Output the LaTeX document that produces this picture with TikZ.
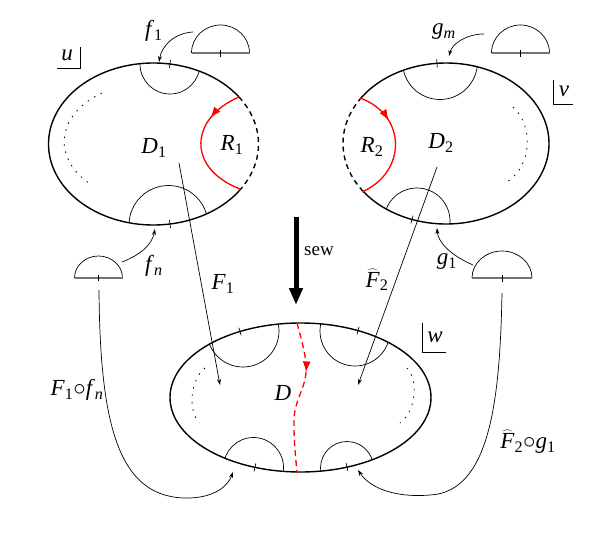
\documentclass[tikz,border=0pt]{standalone}
\usepackage{fontspec}
\setmainfont{Liberation Serif}
\usetikzlibrary{arrows.meta,decorations.markings}
\newcommand\lab[2]{\textit{#1}\textsubscript{#2}}
\newcommand\hatF{\ensuremath{\widehat{\mbox{\textit{F}}}}}
\newcommand\tickmark[3]{\draw[hair] (#1,#2) ++(#3:4) -- ++(#3:-8);}
\begin{document}
\begin{tikzpicture}[x=1pt,y=-1pt,
  outline/.style={line width=1.4pt},
  hair/.style={line width=0.7pt},
  conn/.style={line width=0.7pt,-{Stealth[length=6pt,width=4pt]}},
  redline/.style={line width=1.3pt,red},
  dots/.style={line width=0.8pt,dash pattern=on 1.5pt off 6pt},
  base/.style={line width=1.2pt,black!55},
  lbl/.style={inner sep=0pt,font=\fontsize{23}{27}\selectfont},
  redarrow/.style={postaction={decorate},decoration={markings,mark=at position #1 with {\arrow{Latex[length=11pt,width=8pt]}}}}
]
\useasboundingbox (0,0) rectangle (614,536);

% ---------- ellipse u ----------
\draw[outline] (153.5,144) ++(34:105 and 81) arc[start angle=34,end angle=324.5,x radius=105,y radius=81];
\draw[outline,dash pattern=on 5pt off 4pt] (153.5,144) ++(-35.5:105 and 81) arc[start angle=-35.5,end angle=34,x radius=105,y radius=81];
\begin{scope}
\clip (153.5,144) ellipse [x radius=105,y radius=81];
\draw[hair] (170,64) circle[radius=30];
\draw[hair] (168.5,225) circle[radius=39.5];
\end{scope}
\tickmark{170}{64}{-83}
\tickmark{170}{224}{83}
\draw[dots] (102,93) .. controls (55,115) and (52,160) .. (92,185);
\draw[redline,redarrow=0.28] (239,97) .. controls (190,118) and (186,168) .. (240,189);
\draw[hair] (57,68) -- (80,68) -- (80,47);
\node[lbl] (lu) at (67,55) {\textit{u}};
\node[lbl] (lD1) at (154,148) {\lab{D}{1}};
\node[lbl] (lR1) at (232,145) {\lab{R}{1}};

% ---------- ellipse v ----------
\draw[outline] (446,143.5) ++(214.1:103 and 80.5) arc[start angle=214.1,end angle=503.6,x radius=103,y radius=80.5];
\draw[outline,dash pattern=on 5pt off 4pt] (446,143.5) ++(143.6:103 and 80.5) arc[start angle=143.6,end angle=214.1,x radius=103,y radius=80.5];
\begin{scope}
\clip (446,143.5) ellipse [x radius=103,y radius=80.5];
\draw[hair] (440,62) circle[radius=37.5];
\draw[hair] (417,221) circle[radius=33];
\end{scope}
\tickmark{437}{63.3}{-93.9}
\tickmark{412}{219.5}{105.3}
\draw[dots] (513,107) .. controls (533,125) and (533,165) .. (507,182);
\draw[redline,redarrow=0.3] (360,98) .. controls (407,115) and (407,172) .. (362,192);
\draw[hair] (553,80) -- (553,104) -- (573,104);
\node[lbl] (lv) at (564,91) {\textit{v}};
\node[lbl] (lD2) at (441,143) {\lab{D}{2}};
\node[lbl] (lR2) at (372,147) {\lab{R}{2}};

% ---------- ellipse w ----------
\draw[outline] (300.5,397.5) ellipse [x radius=130.5,y radius=74.5];
\begin{scope}
\clip (300.5,397.5) ellipse [x radius=130.5,y radius=74.5];
\draw[hair] (243,331) circle[radius=36];
\draw[hair] (355,331) circle[radius=35];
\draw[hair] (253.5,467.5) circle[radius=30];
\draw[hair] (347,468) circle[radius=26.5];
\end{scope}
\tickmark{240}{331.5}{-106.6}
\tickmark{358}{330.6}{-74.3}
\tickmark{255}{467.3}{102}
\tickmark{347}{467.1}{77.7}
\draw[dots] (205,368) .. controls (190,380) and (188,410) .. (199,423);
\draw[dots] (407,368) .. controls (418,380) and (417,410) .. (400,423);
\draw[redline,dash pattern=on 6pt off 4pt,redarrow=0.33] (297,323) .. controls (303,345) and (307,360) .. (306,373) .. controls (304,392) and (293,402) .. (294,425) .. controls (294,445) and (296,460) .. (297,473);
\draw[hair] (422,323) -- (422,352) -- (446,352);
\node[lbl] (lw) at (435,337) {\textit{w}};
\node[lbl] (lD) at (283,393) {\textit{D}};

% ---------- detached half disks ----------
\draw[hair] (191.5,53) arc[start angle=180,end angle=360,x radius=29,y radius=28];
\draw[base] (191.5,53) -- (249.5,53);
\draw[hair] (220.5,50) -- (220.5,57);
\draw[hair] (491.5,53) arc[start angle=180,end angle=360,x radius=29,y radius=28];
\draw[base] (491.5,53) -- (549.5,53);
\draw[hair] (520.5,50) -- (520.5,57);
\draw[hair] (74.5,278) arc[start angle=180,end angle=360,x radius=24,y radius=22];
\draw[base] (74.5,278) -- (122.5,278);
\draw[hair] (98.5,275) -- (98.5,281);
\draw[hair] (472,278) arc[start angle=180,end angle=360,x radius=30,y radius=27];
\draw[base] (472,278) -- (532,278);
\draw[hair] (502,275) -- (502,282);

% ---------- connectors ----------
\coordinate (f1s) at (193,32); \coordinate (f1e) at (159,62);
\coordinate (gms) at (484,34); \coordinate (gme) at (449,56);
\coordinate (fns) at (122,262); \coordinate (fne) at (155,229);
\coordinate (g1s) at (473,265); \coordinate (g1e) at (437,228);
\coordinate (F1s) at (179,163); \coordinate (F1e) at (220,385);
\coordinate (F2s) at (437,167); \coordinate (F2e) at (358,385);
\coordinate (c1s) at (99,290); \coordinate (c1m) at (190,498); \coordinate (c1e) at (233,472);
\coordinate (c2s) at (502,293); \coordinate (c2m) at (430,495); \coordinate (c2e) at (358,470);
\coordinate (sews) at (296,217); \coordinate (sewe) at (296,305);

\draw[conn] (f1s) .. controls (175,33) and (162,45) .. (f1e);
\draw[conn] (gms) .. controls (466,34) and (452,44) .. (gme);
\draw[conn] (fns) .. controls (140,255) and (152,245) .. (fne);
\draw[conn] (g1s) .. controls (450,255) and (438,242) .. (g1e);
\draw[conn] (F1s) -- (F1e);
\draw[conn] (F2s) -- (F2e);
\draw[conn] (c1s) .. controls (100,430) and (120,500) .. (c1m) .. controls (215,497) and (228,486) .. (c1e);
\draw[conn] (c2s) .. controls (500,400) and (490,492) .. (c2m) .. controls (395,498) and (370,488) .. (c2e);
\draw[line width=5pt,-{Triangle[length=17pt,width=13pt]}] (sews) -- (sewe);

% ---------- labels ----------
\node[lbl] (lf1) at (154,31) {\lab{f}{1}};
\node[lbl] (lgm) at (444,32) {\lab{g}{\textit{m}}};
\node[lbl] (lfn) at (154,266) {\lab{f}{\textit{n}}};
\node[lbl] (lg1) at (447,262) {\lab{g}{1}};
\node[lbl] (lF1) at (223,284) {\lab{F}{1}};
\node[lbl] (lF2) at (377,280) {\hatF\textsubscript{2}};
\node[lbl] (lc1) at (77,390) {\lab{F}{1}$\circ$\lab{f}{\textit{n}}};
\node[lbl] (lc2) at (528,442) {\hatF\textsubscript{2}$\circ$\lab{g}{1}};
\node[inner sep=0pt,font=\fontsize{19}{22}\selectfont] (lsew) at (319,251) {sew};
\end{tikzpicture}
\end{document}
